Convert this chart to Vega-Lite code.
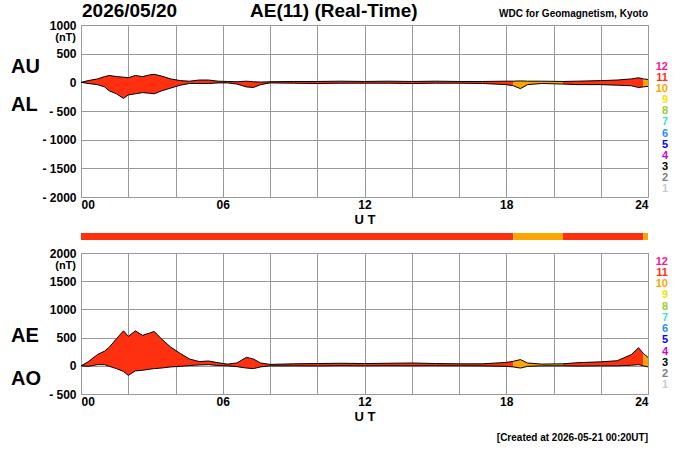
{
  "$schema": "https://vega.github.io/schema/vega-lite/v6.json",
  "background": "white",
  "padding": {"left": 10, "top": 1, "right": 5, "bottom": 5},
  "spacing": 6,
  "config": {
    "font": "Liberation Sans",
    "view": {"stroke": "#999", "strokeWidth": 1},
    "axis": {"labelFont": "Liberation Sans", "labelFontWeight": "bold", "labelColor": "black", "titleFont": "Liberation Sans", "titleFontWeight": "bold", "gridColor": "#999", "gridOpacity": 1, "domain": false, "ticks": false, "labelOverlap": false, "labelFontSize": 12},
    "axisY": {"labelExpr": "datum.value < 0 ? '- ' + abs(datum.value) : datum.value", "title": null, "labelPadding": 5},
    "axisX": {"values": [0,1,2,3,4,5,6,7,8,9,10,11,12,13,14,15,16,17,18,19,20,21,22,23,24], "labelExpr": "datum.value % 6 == 0 ? (datum.value < 10 ? '0' : '') + datum.value : ''", "titleFontSize": 13, "titlePadding": 3, "labelPadding": 2}
  },
  "datasets": {
    "ae": [
      {"t": 0, "AU": 0, "AL": 0, "AE": 0, "AO": 0, "seg": "a"},
      {"t": 0.3, "AU": 30, "AL": -20, "AE": 70, "AO": -10, "seg": "a"},
      {"t": 0.7, "AU": 60, "AL": -40, "AE": 200, "AO": 20, "seg": "a"},
      {"t": 1.0, "AU": 100, "AL": -80, "AE": 260, "AO": 20, "seg": "a"},
      {"t": 1.2, "AU": 120, "AL": -150, "AE": 330, "AO": -10, "seg": "a"},
      {"t": 1.5, "AU": 100, "AL": -200, "AE": 480, "AO": -50, "seg": "a"},
      {"t": 1.8, "AU": 90, "AL": -280, "AE": 620, "AO": -100, "seg": "a"},
      {"t": 2.0, "AU": 80, "AL": -220, "AE": 520, "AO": -170, "seg": "a"},
      {"t": 2.3, "AU": 120, "AL": -200, "AE": 620, "AO": -90, "seg": "a"},
      {"t": 2.6, "AU": 100, "AL": -180, "AE": 540, "AO": -80, "seg": "a"},
      {"t": 2.9, "AU": 130, "AL": -190, "AE": 580, "AO": -60, "seg": "a"},
      {"t": 3.1, "AU": 140, "AL": -200, "AE": 610, "AO": -50, "seg": "a"},
      {"t": 3.4, "AU": 110, "AL": -150, "AE": 480, "AO": -40, "seg": "a"},
      {"t": 3.8, "AU": 60, "AL": -100, "AE": 330, "AO": -20, "seg": "a"},
      {"t": 4.2, "AU": 30, "AL": -50, "AE": 220, "AO": -10, "seg": "a"},
      {"t": 4.6, "AU": 20, "AL": -20, "AE": 120, "AO": 5, "seg": "a"},
      {"t": 5.0, "AU": 40, "AL": -20, "AE": 75, "AO": 15, "seg": "a"},
      {"t": 5.4, "AU": 40, "AL": -20, "AE": 85, "AO": 20, "seg": "a"},
      {"t": 5.8, "AU": 20, "AL": -10, "AE": 55, "AO": 5, "seg": "a"},
      {"t": 6.2, "AU": 15, "AL": -10, "AE": 30, "AO": 0, "seg": "a"},
      {"t": 6.6, "AU": 10, "AL": -30, "AE": 50, "AO": -15, "seg": "a"},
      {"t": 7.0, "AU": 20, "AL": -80, "AE": 150, "AO": -40, "seg": "a"},
      {"t": 7.3, "AU": 10, "AL": -90, "AE": 120, "AO": -50, "seg": "a"},
      {"t": 7.6, "AU": 5, "AL": -40, "AE": 50, "AO": -20, "seg": "a"},
      {"t": 8.0, "AU": 10, "AL": -10, "AE": 25, "AO": 0, "seg": "a"},
      {"t": 9.0, "AU": 15, "AL": -15, "AE": 35, "AO": 0, "seg": "a"},
      {"t": 10.0, "AU": 15, "AL": -20, "AE": 40, "AO": -2, "seg": "a"},
      {"t": 11.0, "AU": 20, "AL": -15, "AE": 45, "AO": 2, "seg": "a"},
      {"t": 12.0, "AU": 15, "AL": -15, "AE": 40, "AO": 0, "seg": "a"},
      {"t": 13.0, "AU": 20, "AL": -15, "AE": 45, "AO": 2, "seg": "a"},
      {"t": 14.0, "AU": 15, "AL": -20, "AE": 50, "AO": 0, "seg": "a"},
      {"t": 15.0, "AU": 20, "AL": -15, "AE": 40, "AO": 2, "seg": "a"},
      {"t": 16.0, "AU": 15, "AL": -15, "AE": 35, "AO": 0, "seg": "a"},
      {"t": 17.0, "AU": 15, "AL": -20, "AE": 35, "AO": -2, "seg": "a"},
      {"t": 18.0, "AU": 20, "AL": -40, "AE": 60, "AO": -10, "seg": "a"},
      {"t": 18.3, "AU": 20, "AL": -60, "AE": 80, "AO": -20, "seg": "a"},
      {"t": 18.3, "AU": 20, "AL": -60, "AE": 80, "AO": -20, "seg": "b"},
      {"t": 18.6, "AU": 25, "AL": -110, "AE": 110, "AO": -40, "seg": "b"},
      {"t": 18.9, "AU": 20, "AL": -40, "AE": 50, "AO": -10, "seg": "b"},
      {"t": 19.5, "AU": 20, "AL": -20, "AE": 30, "AO": 0, "seg": "b"},
      {"t": 20.4, "AU": 15, "AL": -30, "AE": 35, "AO": 0, "seg": "b"},
      {"t": 20.4, "AU": 15, "AL": -30, "AE": 35, "AO": 0, "seg": "c"},
      {"t": 21.0, "AU": 20, "AL": -40, "AE": 55, "AO": -5, "seg": "c"},
      {"t": 22.0, "AU": 30, "AL": -40, "AE": 70, "AO": 0, "seg": "c"},
      {"t": 22.7, "AU": 40, "AL": -50, "AE": 90, "AO": 0, "seg": "c"},
      {"t": 23.3, "AU": 60, "AL": -60, "AE": 200, "AO": 10, "seg": "c"},
      {"t": 23.6, "AU": 80, "AL": -90, "AE": 320, "AO": 20, "seg": "c"},
      {"t": 23.8, "AU": 60, "AL": -80, "AE": 220, "AO": 0, "seg": "c"},
      {"t": 23.8, "AU": 60, "AL": -80, "AE": 220, "AO": 0, "seg": "d"},
      {"t": 24.0, "AU": 50, "AL": -70, "AE": 150, "AO": -20, "seg": "d"}
    ],
    "strip": [
      {"t0": 0, "t1": 18.3, "seg": "a"},
      {"t0": 18.3, "t1": 20.4, "seg": "b"},
      {"t0": 20.4, "t1": 23.8, "seg": "c"},
      {"t0": 23.8, "t1": 24, "seg": "d"}
    ],
    "keys": [
      {"k": "12", "ord": 1}, {"k": "11", "ord": 2}, {"k": "10", "ord": 3}, {"k": "9", "ord": 4},
      {"k": "8", "ord": 5}, {"k": "7", "ord": 6}, {"k": "6", "ord": 7}, {"k": "5", "ord": 8},
      {"k": "4", "ord": 9}, {"k": "3", "ord": 10}, {"k": "2", "ord": 11}, {"k": "1", "ord": 12}
    ]
  },
  "vconcat": [
    {
      "width": 567,
      "height": 172,
      "resolve": {"scale": {"y": "independent", "color": "independent"}},
      "layer": [
        {
          "layer": [
            {
              "data": {"name": "ae"},
              "mark": {"type": "area"},
              "encoding": {
                "x": {"field": "t", "type": "quantitative", "scale": {"domain": [0, 24], "nice": false}, "title": "U T"},
                "y": {"field": "AU", "type": "quantitative", "scale": {"domain": [-2000, 1000], "nice": false}, "axis": {"values": [-2000,-1500,-1000,-500,0,500,1000], "tickCount": 7}},
                "y2": {"field": "AL"},
                "color": {"field": "seg", "type": "nominal", "scale": {"domain": ["a", "b", "c", "d"], "range": ["#ff3010", "#ffa500", "#ff3010", "#ffa500"]}, "legend": null}
              }
            },
            {"data": {"name": "ae"}, "mark": {"type": "line", "color": "black", "strokeWidth": 1}, "encoding": {"x": {"field": "t", "type": "quantitative", "title": "U T"}, "y": {"field": "AU", "type": "quantitative", "axis": {"values": [-2000,-1500,-1000,-500,0,500,1000], "tickCount": 7}}}},
            {"data": {"name": "ae"}, "mark": {"type": "line", "color": "black", "strokeWidth": 1}, "encoding": {"x": {"field": "t", "type": "quantitative", "title": "U T"}, "y": {"field": "AL", "type": "quantitative", "axis": {"values": [-2000,-1500,-1000,-500,0,500,1000], "tickCount": 7}}}},
            {"data": {"values": [{"s": "2026/05/20"}]}, "mark": {"type": "text", "fontSize": 19, "fontWeight": "bold", "align": "left", "dy": -14, "dx": 1}, "encoding": {"x": {"datum": 0}, "y": {"datum": 1000}, "text": {"field": "s"}}},
            {"data": {"values": [{"s": "AE(11) (Real-Time)"}]}, "mark": {"type": "text", "fontSize": 19, "fontWeight": "bold", "align": "center", "dy": -14}, "encoding": {"x": {"datum": 10.7}, "y": {"datum": 1000}, "text": {"field": "s"}}},
            {"data": {"values": [{"s": "WDC for Geomagnetism, Kyoto"}]}, "mark": {"type": "text", "fontSize": 10, "fontWeight": "bold", "align": "right", "dy": -11}, "encoding": {"x": {"datum": 24}, "y": {"datum": 1000}, "text": {"field": "s"}}},
            {"data": {"values": [{"s": "(nT)"}]}, "mark": {"type": "text", "fontSize": 11, "fontWeight": "bold", "align": "right", "dx": -5, "dy": 13}, "encoding": {"x": {"datum": 0}, "y": {"datum": 1000}, "text": {"field": "s"}}},
            {"data": {"values": [{"s": "AU", "v": 260}, {"s": "AL", "v": -400}]}, "mark": {"type": "text", "fontSize": 20, "fontWeight": "bold", "align": "left", "dx": -70}, "encoding": {"x": {"datum": 0}, "y": {"field": "v", "type": "quantitative", "axis": {"values": [-2000,-1500,-1000,-500,0,500,1000], "tickCount": 7}}, "text": {"field": "s"}}}
          ]
        },
        {
          "data": {"name": "keys"},
          "mark": {"type": "text", "fontSize": 11, "fontWeight": "bold", "align": "right", "dx": 20},
          "encoding": {
            "x": {"datum": 24},
            "y": {"field": "ord", "type": "ordinal", "axis": null, "scale": {"type": "point", "range": [36, 170]}},
            "text": {"field": "k"},
            "color": {"field": "k", "type": "nominal", "legend": null, "scale": {"domain": ["12","11","10","9","8","7","6","5","4","3","2","1"], "range": ["#ff1493","#ff3010","#ffa500","#e8e800","#9acd32","#40e0d0","#1e90ff","#0000ff","#d000d0","#000000","#808080","#cccccc"]}}
          }
        }
      ]
    },
    {
      "width": 567,
      "height": 7,
      "view": {"stroke": null},
      "data": {"name": "strip"},
      "mark": {"type": "rect"},
      "encoding": {
        "x": {"field": "t0", "type": "quantitative", "scale": {"domain": [0, 24], "nice": false}, "axis": null},
        "x2": {"field": "t1"},
        "color": {"field": "seg", "type": "nominal", "scale": {"domain": ["a", "b", "c", "d"], "range": ["#ff3010", "#ffa500", "#ff3010", "#ffa500"]}, "legend": null}
      }
    },
    {
      "width": 567,
      "height": 141,
      "resolve": {"scale": {"y": "independent", "color": "independent"}},
      "layer": [
        {
          "layer": [
            {
              "data": {"name": "ae"},
              "mark": {"type": "area"},
              "encoding": {
                "x": {"field": "t", "type": "quantitative", "scale": {"domain": [0, 24], "nice": false}, "title": "U T"},
                "y": {"field": "AE", "type": "quantitative", "scale": {"domain": [-500, 2000], "nice": false}, "axis": {"values": [-500,0,500,1000,1500,2000], "tickCount": 6}},
                "y2": {"field": "AO"},
                "color": {"field": "seg", "type": "nominal", "scale": {"domain": ["a", "b", "c", "d"], "range": ["#ff3010", "#ffa500", "#ff3010", "#ffa500"]}, "legend": null}
              }
            },
            {"data": {"name": "ae"}, "mark": {"type": "line", "color": "black", "strokeWidth": 1}, "encoding": {"x": {"field": "t", "type": "quantitative", "title": "U T"}, "y": {"field": "AE", "type": "quantitative", "axis": {"values": [-500,0,500,1000,1500,2000], "tickCount": 6}}}},
            {"data": {"name": "ae"}, "mark": {"type": "line", "color": "black", "strokeWidth": 1}, "encoding": {"x": {"field": "t", "type": "quantitative", "title": "U T"}, "y": {"field": "AO", "type": "quantitative", "axis": {"values": [-500,0,500,1000,1500,2000], "tickCount": 6}}}},
            {"data": {"values": [{"s": "(nT)"}]}, "mark": {"type": "text", "fontSize": 11, "fontWeight": "bold", "align": "right", "dx": -5, "dy": 13}, "encoding": {"x": {"datum": 0}, "y": {"datum": 2000}, "text": {"field": "s"}}},
            {"data": {"values": [{"s": "AE", "v": 530}, {"s": "AO", "v": -230}]}, "mark": {"type": "text", "fontSize": 20, "fontWeight": "bold", "align": "left", "dx": -70}, "encoding": {"x": {"datum": 0}, "y": {"field": "v", "type": "quantitative", "axis": {"values": [-500,0,500,1000,1500,2000], "tickCount": 6}}, "text": {"field": "s"}}},
            {"data": {"values": [{"s": "[Created at 2026-05-21 00:20UT]"}]}, "mark": {"type": "text", "fontSize": 10, "fontWeight": "bold", "align": "right", "dy": 44}, "encoding": {"x": {"datum": 24}, "y": {"datum": -500}, "text": {"field": "s"}}}
          ]
        },
        {
          "data": {"name": "keys"},
          "mark": {"type": "text", "fontSize": 11, "fontWeight": "bold", "align": "right", "dx": 20},
          "encoding": {
            "x": {"datum": 24},
            "y": {"field": "ord", "type": "ordinal", "axis": null, "scale": {"type": "point", "range": [3, 138]}},
            "text": {"field": "k"},
            "color": {"field": "k", "type": "nominal", "legend": null, "scale": {"domain": ["12","11","10","9","8","7","6","5","4","3","2","1"], "range": ["#ff1493","#ff3010","#ffa500","#e8e800","#9acd32","#40e0d0","#1e90ff","#0000ff","#d000d0","#000000","#808080","#cccccc"]}}
          }
        }
      ]
    }
  ]
}
